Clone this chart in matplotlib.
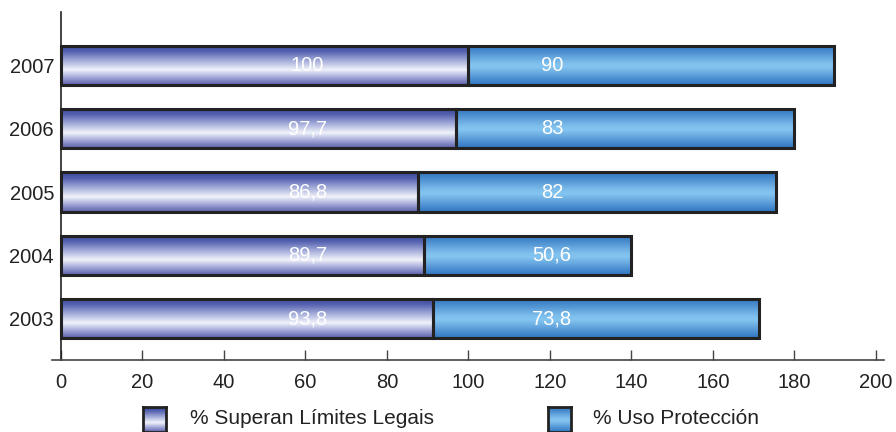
import numpy as np
import matplotlib
matplotlib.use("Agg")
import matplotlib.pyplot as plt
from matplotlib.colors import LinearSegmentedColormap

plt.rcParams['font.family'] = ['Liberation Sans', 'DejaVu Sans']

years = ["2003", "2004", "2005", "2006", "2007"]
# bar lengths as drawn in the picture
superan = [91.3, 89.0, 87.6, 97.0, 99.9]
uso = [80.0, 51.0, 87.9, 83.0, 89.8]
# printed labels
superan_labels = ["93,8", "89,7", "86,8", "97,7", "100"]
uso_labels = ["73,8", "50,6", "82", "83", "90"]
series_names = ["% Superan Límites Legais", "% Uso Protección"]

cmap1 = LinearSegmentedColormap.from_list("c1", [
    (0.0, (0.22, 0.28, 0.60)), (0.15, (0.33, 0.38, 0.69)),
    (0.40, (0.66, 0.69, 0.86)), (0.62, (0.94, 0.95, 0.98)),
    (0.80, (0.66, 0.68, 0.86)), (1.0, (0.36, 0.38, 0.67))])
cmap2 = LinearSegmentedColormap.from_list("c2", [
    (0.0, (0.18, 0.45, 0.75)), (0.45, (0.50, 0.75, 0.93)),
    (0.55, (0.52, 0.77, 0.94)), (1.0, (0.19, 0.46, 0.76))])
grad = np.linspace(0, 1, 64).reshape(-1, 1)

fig = plt.figure(figsize=(8.96, 4.32), dpi=100)
ax = fig.add_axes([52 / 896, 72 / 432, 832 / 896, 348 / 432])

y = np.arange(len(years))
h = 0.62
b1 = ax.barh(y, superan, height=h, facecolor="none", edgecolor="#222222", linewidth=2.2, zorder=3)
b2 = ax.barh(y, uso, left=superan, height=h, facecolor="none", edgecolor="#222222", linewidth=2.2, zorder=3)

for bars, cm in [(b1, cmap1), (b2, cmap2)]:
    for p in bars:
        x0, y0 = p.get_x(), p.get_y()
        im = ax.imshow(grad, cmap=cm, aspect="auto", origin="upper",
                       extent=[x0, x0 + p.get_width(), y0, y0 + p.get_height()], zorder=2)
        im.set_clip_path(p)

for i in range(len(years)):
    ax.text(60.5, y[i], superan_labels[i], color="white", ha="center", va="center", fontsize=14.5, zorder=4)
    ax.text(120.5, y[i], uso_labels[i], color="white", ha="center", va="center", fontsize=14.5, zorder=4)

ax.set_xlim(-2.2, 202)
ax.set_ylim(-0.65, 4.84)
ax.spines['left'].set_position(('data', 0))
ax.spines['right'].set_visible(False)
ax.spines['top'].set_visible(False)
ax.spines['left'].set_color("#222222")
ax.spines['bottom'].set_color("#444444")
ax.spines['left'].set_linewidth(1.2)
ax.spines['bottom'].set_linewidth(1.2)
ax.set_xticks(range(0, 201, 20))
ax.tick_params(axis="x", direction="in", length=7, width=1, color="#444444", labelsize=14.5, pad=9, labelcolor="#222222")
ax.set_yticks(y)
ax.set_yticklabels(years)
ax.tick_params(axis="y", length=0, labelsize=14.5, pad=5, labelcolor="#222222")

# legend
legend_x = [143, 548]
text_x = [190, 593]
for cm, lx, tx, name in zip([cmap1, cmap2], legend_x, text_x, series_names):
    lax = fig.add_axes([lx / 896, 0 / 432, 23 / 896, 25 / 432])
    lax.imshow(grad, cmap=cm, aspect="auto", origin="upper", extent=[0, 1, 0, 1.3])
    lax.set_xlim(0, 1)
    lax.set_ylim(0, 1.3)
    lax.set_xticks([])
    lax.set_yticks([])
    for s in lax.spines.values():
        s.set_linewidth(2)
        s.set_color("#222222")
    fig.text(tx / 896, 13 / 432, name, fontsize=15, va="center", ha="left", color="#222222")

fig.savefig("out.png", dpi=100)
